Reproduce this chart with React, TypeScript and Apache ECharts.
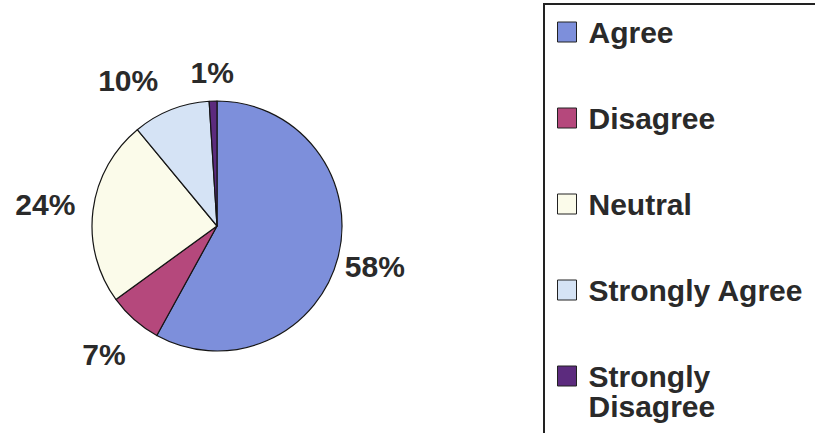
import React, { useEffect, useRef } from "react";
import * as echarts from "echarts";

const categories = ["Agree", "Disagree", "Neutral", "Strongly Agree", "Strongly Disagree"];
const values = [58, 7, 24, 10, 1];
const sliceColors = ["#7d8fdb", "#b5487c", "#fbfbea", "#d5e3f5", "#5c2b7e"];

const FONT = "Arial, 'Liberation Sans', Helvetica, sans-serif";
const TEXT_COLOR = "#2a2a2a";

// label line geometry per slice (style only: distance of each label from the rim)
const labelLen = [38, 46, 48, 32, 29];
const labelLen2 = [0, 0, 0, 31, 0];

export default function App() {
  const ref = useRef<HTMLDivElement>(null);

  useEffect(() => {
    if (!ref.current) return;
    const chart = echarts.init(ref.current, undefined, { renderer: "svg" });

    const data = categories.map((name, i) => ({
      name,
      value: values[i],
      itemStyle: { color: sliceColors[i] },
      labelLine: { show: false, length: labelLen[i], length2: labelLen2[i] },
    }));

    const legendText = {
      fontSize: 30,
      fontWeight: "bold" as const,
      fontFamily: FONT,
      color: TEXT_COLOR,
      lineHeight: 30,
      padding: [0, 0, 0, 7],
    };

    chart.setOption({
      animation: false,
      backgroundColor: "#ffffff",
      graphic: [
        {
          type: "rect",
          shape: { x: 544, y: 4, width: 400, height: 500 },
          style: { fill: "none", stroke: "#222222", lineWidth: 2 },
          silent: true,
        },
      ],
      legend: [
        {
          data: categories.slice(0, 4),
          orient: "vertical",
          left: 557,
          top: 17,
          padding: 0,
          itemWidth: 19,
          itemHeight: 20,
          itemGap: 56,
          icon: "rect",
          selectedMode: false,
          itemStyle: { borderColor: "#222222", borderWidth: 1 },
          textStyle: legendText,
        },
        {
          // two-line entry: square sits beside the first line
          data: [categories[4]],
          formatter: (name: string) => name.replace(" ", "\n"),
          orient: "vertical",
          left: 557,
          top: 361,
          padding: 0,
          itemWidth: 19,
          itemHeight: 50,
          icon: "path://M0,0H19V20H0Z M0,50L0.01,50",
          selectedMode: false,
          itemStyle: { borderColor: "#222222", borderWidth: 1 },
          textStyle: legendText,
        },
      ],
      series: [
        {
          type: "pie",
          center: [217, 226],
          radius: 125,
          startAngle: 90,
          clockwise: true,
          avoidLabelOverlap: false,
          silent: true,
          itemStyle: { borderColor: "#151515", borderWidth: 1.2 },
          label: {
            show: true,
            position: "outside",
            formatter: "{c}%",
            fontSize: 30,
            fontWeight: "bold",
            fontFamily: FONT,
            color: TEXT_COLOR,
            distanceToLabelLine: 0,
          },
          labelLine: { show: false },
          labelLayout: () => ({ align: "center", verticalAlign: "middle" }),
          emphasis: { disabled: true },
          data,
        },
      ],
    });

    return () => chart.dispose();
  }, []);

  return (
    <div
      ref={ref}
      style={{ position: "absolute", left: 0, top: 0, width: 815, height: 433, background: "#fff" }}
    />
  );
}
